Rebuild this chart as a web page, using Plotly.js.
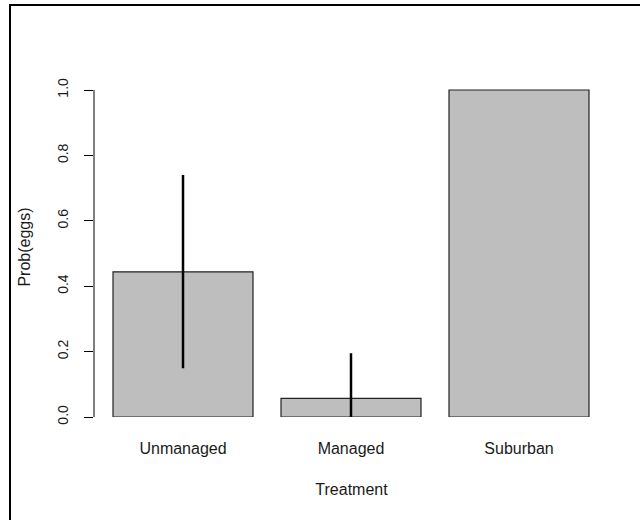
<!DOCTYPE html>
<html>
<head>
<meta charset="utf-8">
<script src="https://cdn.plot.ly/plotly-3.0.1.min.js"></script>
<style>
  html, body { margin: 0; padding: 0; background: #fff; }
  #wrap { position: relative; width: 640px; height: 520px; overflow: hidden; }
  #chart { position: absolute; left: 0; top: 0; width: 640px; height: 520px; }
  #frame { position: absolute; left: 9px; top: 4px; width: 640px; height: 530px;
           border-left: 2px solid #000; border-top: 2px solid #000; pointer-events: none; }
</style>
</head>
<body>
<div id="wrap">
  <div id="chart"></div>
  <div id="frame"></div>
</div>
<script>
// Data
const categories = ["Unmanaged", "Managed", "Suburban"];
const probEggs   = [0.444, 0.057, 1.0];
const errUpper   = [0.296, 0.138, 0];
const errLower   = [0.295, 0.057, 0];
const yTickVals  = [0, 0.2, 0.4, 0.6, 0.8, 1.0];
const yTickText  = ["0.0", "0.2", "0.4", "0.6", "0.8", "1.0"];

const FONT = '"Liberation Sans", Arial, Helvetica, sans-serif';

const trace = {
  type: 'bar',
  x: categories,
  y: probEggs,
  marker: { color: '#BEBEBE', line: { color: '#222', width: 1.2 } },
  error_y: {
    type: 'data', symmetric: false,
    array: errUpper, arrayminus: errLower,
    color: '#000', thickness: 2.5, width: 0
  },
  hoverinfo: 'none'
};

const layout = {
  width: 640, height: 520,
  margin: { l: 94, r: 31, t: 77, b: 103, pad: 0 },
  paper_bgcolor: '#fff', plot_bgcolor: '#fff',
  showlegend: false,
  bargap: 0.1667,
  font: { family: FONT, color: '#000', size: 16 },
  xaxis: {
    type: 'category',
    range: [-0.5298, 2.5357],
    showgrid: false, zeroline: false, showline: false,
    ticks: '', tickfont: { size: 16, family: FONT, color: '#1a1a1a' },
    ticklabelstandoff: 20,
    automargin: false,
    title: { text: 'Treatment', font: { size: 16, family: FONT, color: '#1a1a1a' }, standoff: 27 }
  },
  yaxis: {
    range: [0, 1.0398],
    tickvals: yTickVals, ticktext: yTickText,
    tickangle: -90,
    showgrid: false, zeroline: false, showline: false,
    ticks: 'outside', ticklen: 9, tickwidth: 1, tickcolor: '#000',
    tickfont: { size: 14, family: FONT, color: '#1a1a1a' },
    ticklabelstandoff: 10,
    automargin: false,
    title: { text: 'Prob(eggs)', font: { size: 16, family: FONT, color: '#1a1a1a' }, standoff: 20 }
  },
  shapes: [{
    type: 'line', xref: 'paper', yref: 'y',
    x0: 0, x1: 0, y0: yTickVals[0], y1: yTickVals[yTickVals.length - 1],
    line: { color: '#000', width: 1 }
  }]
};

Plotly.newPlot('chart', [trace], layout, { displayModeBar: false, staticPlot: true });
</script>
</body>
</html>
